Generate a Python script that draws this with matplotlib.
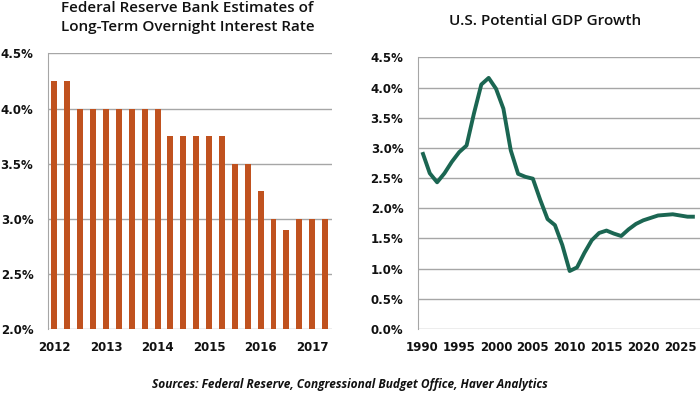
import numpy as np
import matplotlib
matplotlib.use('Agg')
import matplotlib.pyplot as plt

# Fed long-term rate estimates (one bar per SEP release, 4 per year)
fed_rates = [4.25, 4.25, 4.0, 4.0, 4.0, 4.0, 4.0, 4.0, 4.0,
             3.75, 3.75, 3.75, 3.75, 3.75, 3.5, 3.5, 3.25,
             3.0, 2.9, 3.0, 3.0, 3.0]
fed_tick_labels = ['2012', '2013', '2014', '2015', '2016', '2017']

# CBO potential GDP growth
gdp_years = list(range(1990, 2028))
gdp_growth = [2.93, 2.58, 2.43, 2.58, 2.77, 2.93, 3.04, 3.57, 4.05, 4.16,
              3.98, 3.65, 2.96, 2.57, 2.52, 2.49, 2.14, 1.82, 1.72, 1.39,
              0.96, 1.02, 1.26, 1.47, 1.59, 1.63, 1.58, 1.54, 1.65, 1.74,
              1.80, 1.84, 1.88, 1.89, 1.90, 1.88, 1.86, 1.86]

bar_color = '#C0521F'
line_color = '#1B6652'
grid_color = '#A6A6A6'

plt.rcParams['font.family'] = ['DejaVu Sans']
fig = plt.figure(figsize=(7, 3.93), dpi=100)

# left panel: bars
ax1 = fig.add_axes([0.0686, 0.163, 0.405, 0.701])
x = np.arange(len(fed_rates))
ax1.bar(x, fed_rates, width=0.46, color=bar_color, zorder=3)
ax1.set_ylim(2.0, 4.5)
ax1.set_xlim(-0.5, len(fed_rates) - 0.5)
ax1.set_yticks(np.arange(2.0, 4.51, 0.5))
ax1.set_yticklabels([f'{v:.1f}%' for v in np.arange(2.0, 4.51, 0.5)])
ax1.set_xticks(np.arange(0, len(fed_rates), 4))
ax1.set_xticklabels(fed_tick_labels)
ax1.yaxis.grid(True, color=grid_color, lw=1, zorder=0)

# right panel: line
ax2 = fig.add_axes([0.597, 0.163, 0.403, 0.691])
ax2.plot(gdp_years, gdp_growth, color=line_color, lw=2.8, solid_capstyle='butt', zorder=3)
ax2.set_ylim(0, 4.5)
ax2.set_xlim(1989.39, 2027.7)
ax2.set_yticks(np.arange(0, 4.51, 0.5))
ax2.set_yticklabels([f'{v:.1f}%' for v in np.arange(0, 4.51, 0.5)])
ax2.set_xticks(range(1990, 2026, 5))
ax2.yaxis.grid(True, color=grid_color, lw=1, zorder=0)

for ax in (ax1, ax2):
    for s in ('top', 'right', 'bottom'):
        ax.spines[s].set_visible(False)
    ax.spines['left'].set_color(grid_color)
    ax.tick_params(length=0, labelsize=8.5, colors='#111111')
    ax.tick_params(axis='y', pad=10.5)
    ax.tick_params(axis='x', pad=9)
    for lab in ax.get_xticklabels() + ax.get_yticklabels():
        lab.set_fontweight('bold')

fig.text(0.268, 0.955, 'Federal Reserve Bank Estimates of\nLong-Term Overnight Interest Rate',
         ha='center', va='center', fontsize=11, fontweight='semibold',
         family='Open Sans', linespacing=1.45, color='#111111')
fig.text(0.779, 0.947, 'U.S. Potential GDP Growth', ha='center', va='center',
         fontsize=11, fontweight='semibold', family='Open Sans', color='#111111')
fig.text(0.5, 0.022, 'Sources: Federal Reserve, Congressional Budget Office, Haver Analytics',
         ha='center', va='center', fontsize=8.6, fontweight='bold', style='italic',
         family='Open Sans', color='#111111')

fig.savefig('out.png', dpi=100)
